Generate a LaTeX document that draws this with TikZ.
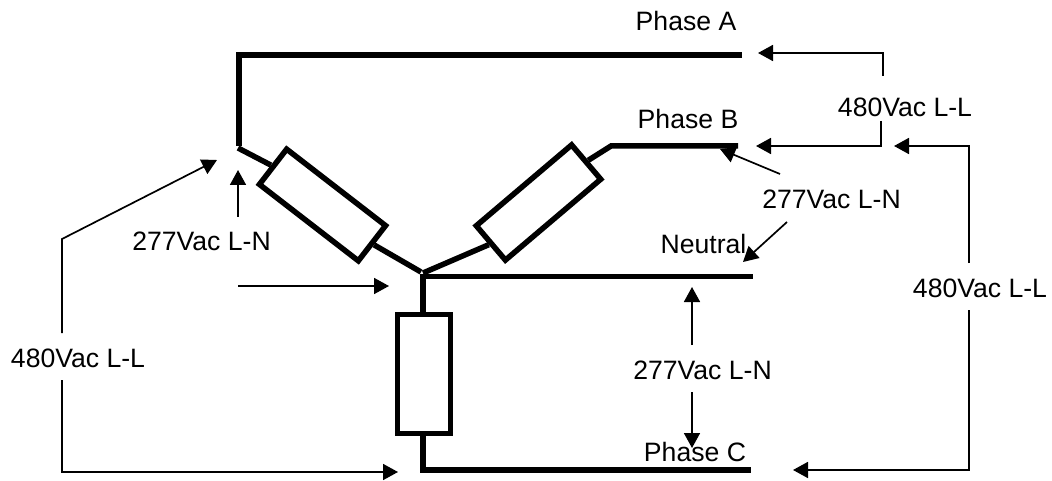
\documentclass[tikz,border=0pt]{standalone}
\usepackage{fontspec}
\setmainfont{Liberation Sans}
\usetikzlibrary{arrows.meta}
\tikzset{
  wire/.style={line width=5.5pt,line cap=butt,line join=miter},
  res/.style={draw,line width=5.5pt,fill=white,inner sep=0pt,minimum width=125pt},
  volt/.style={line width=1.7pt,-{Triangle[length=15pt,width=16pt]}},
  lbl/.style={inner sep=0pt,anchor=base,font=\fontsize{26.6pt}{30pt}\selectfont}
}
\begin{document}
\begin{tikzpicture}[x=1pt,y=-1pt]
\useasboundingbox (0,0) rectangle (1052,481);
% resistors
\node[res,minimum height=44.5pt,rotate=-37.7] (rA) at (322.5,205) {};
\node[res,minimum height=45pt,rotate=40.3] (rB) at (538.5,202.5) {};
\node[res,minimum height=53pt,rotate=90,minimum width=119pt] (rC) at (424,374) {};
% wire points
\coordinate (aEnd) at (742,55);
\coordinate (aCorner) at (239,55);
\coordinate (aFoot) at (239,146);
\coordinate (aStart) at (238,148);
\coordinate (star) at (421,272);
\coordinate (star2) at (423,273);
\coordinate (bCorner) at (611,146);
\coordinate (bEnd) at (738,146);
\coordinate (nStart) at (420,276.5);
\coordinate (nEnd) at (753,276.5);
\coordinate (cTop) at (423,274);
\coordinate (cTopRes) at (423,316);
\coordinate (cBotRes) at (423,432);
\coordinate (cCorner) at (423,470);
\coordinate (cEnd) at (751,470);
\draw[wire] (aEnd) -- (aCorner) -- (aFoot);
\draw[wire] (aStart) -- (rA.west);
\draw[wire] (rA.east) -- (star);
\draw[wire] (star2) -- (rB.west);
\draw[wire] (rB.east) -- (bCorner) -- (bEnd);
\draw[wire] (nStart) -- (nEnd);
\draw[wire] (cTop) -- (cTopRes);
\draw[wire] (cBotRes) -- (cCorner) -- (cEnd);
% labels
\node[lbl] (pa) at (686,31) {Phase A};
\node[lbl] (pb) at (688,129) {Phase B};
\node[lbl] (ne) at (703.5,253) {Neutral};
\node[lbl] (pc) at (695,461) {Phase C};
\node[lbl] (ll1) at (905,117) {480Vac L-L};
\node[lbl] (ln1) at (831.5,209) {277Vac L-N};
\node[lbl] (ll2) at (980,297) {480Vac L-L};
\node[lbl] (ln2) at (702.5,379) {277Vac L-N};
\node[lbl] (ln3) at (201.5,251) {277Vac L-N};
\node[lbl] (ll3) at (78,367) {480Vac L-L};
% voltage arrows
\coordinate (t1) at (883,76); \coordinate (t1c) at (883,53); \coordinate (t1e) at (758,53);
\coordinate (t2) at (881,121); \coordinate (t2c) at (881,146); \coordinate (t2e) at (756,146);
\coordinate (r1) at (969,263); \coordinate (r1c) at (969,146); \coordinate (r1e) at (894,146);
\coordinate (r2) at (969,310); \coordinate (r2c) at (969,470); \coordinate (r2e) at (793,470);
\coordinate (n1) at (780,174); \coordinate (n1e) at (720,149);
\coordinate (n2) at (787,222); \coordinate (n2e) at (743,262);
\coordinate (c1) at (692,345); \coordinate (c1e) at (692,287);
\coordinate (c2) at (692,392); \coordinate (c2e) at (692,448);
\coordinate (l1) at (238,217); \coordinate (l1e) at (238,170);
\coordinate (l2) at (62,333); \coordinate (l2c) at (62,239); \coordinate (l2e) at (217,160);
\coordinate (l3) at (62,380); \coordinate (l3c) at (62,472); \coordinate (l3e) at (398,472);
\coordinate (m1) at (238,286); \coordinate (m1e) at (389,286);
\draw[volt] (t1) -- (t1c) -- (t1e);
\draw[volt] (t2) -- (t2c) -- (t2e);
\draw[volt] (r1) -- (r1c) -- (r1e);
\draw[volt] (r2) -- (r2c) -- (r2e);
\draw[volt] (n1) -- (n1e);
\draw[volt] (n2) -- (n2e);
\draw[volt] (c1) -- (c1e);
\draw[volt] (c2) -- (c2e);
\draw[volt] (l1) -- (l1e);
\draw[volt] (l2) -- (l2c) -- (l2e);
\draw[volt] (l3) -- (l3c) -- (l3e);
\draw[volt] (m1) -- (m1e);
\end{tikzpicture}
\end{document}
